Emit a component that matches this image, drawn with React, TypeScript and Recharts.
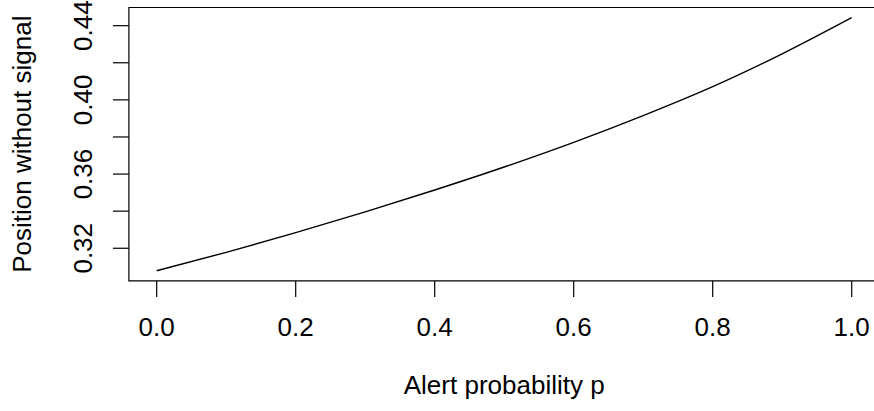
import React from 'react';
import { LineChart, Line, XAxis, YAxis, ReferenceArea } from 'recharts';

const ALERT_P = [0, 0.1, 0.2, 0.3, 0.4, 0.5, 0.6, 0.7, 0.8, 0.9, 1.0];
const POSITION = [0.3079, 0.3178, 0.3284, 0.3396, 0.3514, 0.3638, 0.3771, 0.3915, 0.4071, 0.4248, 0.4443];

const X_TICKS = [0, 0.2, 0.4, 0.6, 0.8, 1.0];
const Y_TICKS = [0.32, 0.34, 0.36, 0.38, 0.4, 0.42, 0.44];
const Y_LABELLED = ['0.32', '0.36', '0.40', '0.44'];

const X_DOMAIN = [-0.04, 1.04];
const Y_DOMAIN = [0.3024, 0.4498];

const data = ALERT_P.map((p, i) => ({ p, pos: POSITION[i] }));

const FONT = '"Liberation Sans", Arial, Helvetica, sans-serif';
const FS = 26;

const XTick = (props: any) => {
    const { x, y, payload } = props;
    return (
        <text x={x} y={y} dy={39.5} textAnchor="middle" fontFamily={FONT} fontSize={FS} fill="#000">
            {payload.value.toFixed(1)}
        </text>
    );
};

const YTick = (props: any) => {
    const { x, y, payload } = props;
    const label = payload.value.toFixed(2);
    if (!Y_LABELLED.includes(label)) return null;
    const bx = x - 21;
    return (
        <text x={bx} y={y} transform={`rotate(-90, ${bx}, ${y})`} textAnchor="middle" fontFamily={FONT} fontSize={FS} fill="#000">
            {label}
        </text>
    );
};

// axis titles, R style
const YTitle = (props: any) => {
    const { viewBox } = props;
    const cy = viewBox.y + viewBox.height / 2;
    const bx = 31.5;
    return (
        <text x={bx} y={cy} transform={`rotate(-90, ${bx}, ${cy})`} textAnchor="middle" fontFamily={FONT} fontSize={FS} fill="#000">
            Position without signal
        </text>
    );
};

const XTitle = (props: any) => {
    const { viewBox } = props;
    const cx = viewBox.x + viewBox.width / 2;
    return (
        <text x={cx} y={394} textAnchor="middle" fontFamily={FONT} fontSize={FS} fill="#000">
            Alert probability p
        </text>
    );
};

export default function App() {
    return (
        <div style={{ position: 'absolute', left: 0, top: 0, width: 874, height: 411, overflow: 'hidden', background: '#fff' }}>
            <LineChart width={890} height={411} data={data} margin={{ top: 7.5, right: 10.5, bottom: 0, left: 0 }}>
                <XAxis
                    dataKey="p"
                    type="number"
                    domain={X_DOMAIN}
                    ticks={X_TICKS}
                    allowDataOverflow
                    height={130.1}
                    tickSize={16}
                    tickMargin={0}
                    axisLine={false}
                    tickLine={{ stroke: '#000', strokeWidth: 1.2 }}
                    tick={<XTick />}
                    label={<XTitle />}
                />
                <YAxis
                    type="number"
                    domain={Y_DOMAIN}
                    ticks={Y_TICKS}
                    allowDataOverflow
                    width={128.9}
                    tickSize={16}
                    tickMargin={0}
                    axisLine={false}
                    tickLine={{ stroke: '#000', strokeWidth: 1.2 }}
                    tick={<YTick />}
                    interval={0}
                    label={<YTitle />}
                />
                <ReferenceArea
                    x1={X_DOMAIN[0]}
                    x2={X_DOMAIN[1]}
                    y1={Y_DOMAIN[0]}
                    y2={Y_DOMAIN[1]}
                    fill="none"
                    stroke="#000"
                    strokeWidth={1.2}
                    ifOverflow="visible"
                />
                <Line
                    dataKey="pos"
                    type="monotone"
                    stroke="#000"
                    strokeWidth={1.4}
                    dot={false}
                    isAnimationActive={false}
                />
            </LineChart>
        </div>
    );
}
